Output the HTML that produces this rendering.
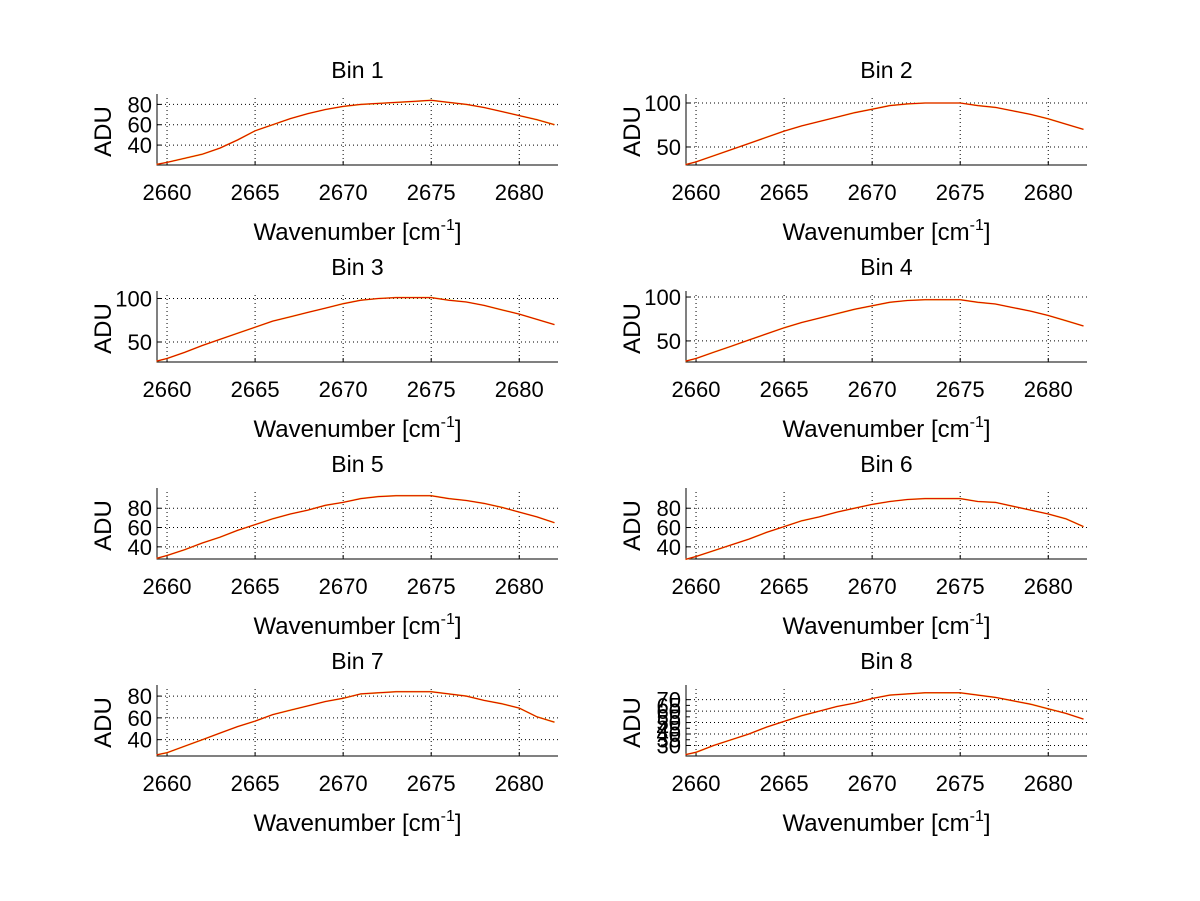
<!DOCTYPE html>
<html><head><meta charset="utf-8"><style>
body{margin:0;background:#fff}
svg{display:block;font-family:"Liberation Sans",Arial,sans-serif}
</style></head><body>
<svg id="fig" width="1200" height="901"></svg>
<script>
const xCats=[2659.4,2660,2661,2662,2663,2664,2665,2666,2667,2668,2669,2670,2671,2672,2673,2674,2675,2676,2677,2678,2679,2680,2681,2682];
const bin1=[21,23,27,31,37,45,54,60,66,71,75,78,80,81,82,83,84,82,80,77,73,69,65,60];
const bin2=[30,33,40,47,54,61,68,74,79,84,89,93,97,99,100,100,100,97,95,91,87,82,76,70];
const bin3=[28,31,38,46,53,60,67,74,79,84,89,94,98,100,101,101,101,98,96,92,87,82,76,70];
const bin4=[27,30,37,44,51,58,65,71,76,81,86,90,94,96,97,97,97,94,92,88,84,79,73,67];
const bin5=[28,31,37,44,50,57,63,69,74,78,83,86,90,92,93,93,93,90,88,85,81,76,71,65];
const bin6=[27,30,36,42,48,55,61,67,71,76,80,84,87,89,90,90,90,87,86,82,78,74,69,61];
const bin7=[26,28,34,40,46,52,57,63,67,71,75,78,82,83,84,84,84,82,80,76,73,69,61,56];
const bin8=[22,24,30,35,40,46,51,56,60,64,67,71,74,75,76,76,76,74,72,69,66,62,58,53];
const xTicks=[2660,2665,2670,2675,2680];
const yTicks1=[40,60,80], yTicks2=[50,100];
const yTicks8=[30,35,40,45,50,55,60,65,70];

const NS="http://www.w3.org/2000/svg";
const svg=document.getElementById('fig');
function mk(tag,attrs,parent,text){const e=document.createElementNS(NS,tag);for(const k in attrs)e.setAttribute(k,attrs[k]);if(text!==undefined)e.textContent=text;(parent||svg).appendChild(e);return e;}

const panels=[
 {t:'Bin 1',d:bin1,col:0,row:0,y:[20.4,86.3],yt:yTicks1},
 {t:'Bin 2',d:bin2,col:1,row:0,y:[29.5,105.7],yt:yTicks2},
 {t:'Bin 3',d:bin3,col:0,row:1,y:[27,104],yt:yTicks2},
 {t:'Bin 4',d:bin4,col:1,row:1,y:[26,102.3],yt:yTicks2},
 {t:'Bin 5',d:bin5,col:0,row:2,y:[27.4,96.8],yt:yTicks1},
 {t:'Bin 6',d:bin6,col:1,row:2,y:[27.4,96.8],yt:yTicks1},
 {t:'Bin 7',d:bin7,col:0,row:3,y:[25,86.5],yt:yTicks1},
 {t:'Bin 8',d:bin8,col:1,row:3,y:[20.8,79.3],yt:yTicks8}
];
const X0=[157,686],W=401,TOPS=[98,295,492,689],H=67,XMIN=2659.43,XMAX=2682.2;

panels.forEach((p,i)=>{
 const g=mk('g',{});
 
 
 const x0=X0[p.col],top=TOPS[p.row],bot=top+H;
 const sx=v=>x0+(v-XMIN)/(XMAX-XMIN)*W;
 const sy=v=>bot-(v-p.y[0])/(p.y[1]-p.y[0])*H;
 xTicks.forEach(t=>{const l=mk('line',{x1:sx(t),x2:sx(t),y1:top,y2:bot,stroke:'#000','stroke-width':1,'stroke-dasharray':'1,3'},g);
  mk('line',{x1:sx(t),x2:sx(t),y1:bot,y2:bot-4,stroke:'#000'},g);
  const tx=mk('text',{x:sx(t),y:bot+35,'text-anchor':'middle','font-size':22},g,t);});
 p.yt.forEach(t=>{
  if(i!==7||t%10===0){const l=mk('line',{x1:x0,x2:x0+W,y1:sy(t),y2:sy(t),stroke:'#000','stroke-width':1,'stroke-dasharray':'1,3'},g);}
  mk('line',{x1:x0,x2:x0+4,y1:sy(t),y2:sy(t),stroke:'#000'},g);
  const tx=mk('text',{x:x0-5,y:sy(t)+8,'text-anchor':'end','font-size':22},g,t);});
 const ax=mk('path',{d:`M${x0},${top-4}V${bot}H${x0+W}`,stroke:'#000',fill:'none','stroke-width':1},g);
 
 const pts=p.d.map((v,k)=>sx(xCats[k]).toFixed(1)+','+sy(v).toFixed(1)).join(' ');
 const ly=mk('polyline',{points:pts,fill:'none',stroke:'#e8c000','stroke-width':1.6},g);
 
 const lr=mk('polyline',{points:pts,fill:'none',stroke:'#e00000','stroke-width':1},g);
 
 const tt=mk('text',{x:x0+W/2,y:top-20,'text-anchor':'middle','font-size':23},g,p.t);
 
 const xl=mk('text',{x:x0+W/2,y:bot+75,'text-anchor':'middle','font-size':24},g);
 
 xl.innerHTML='Wavenumber [cm<tspan dy="-10" font-size="16">-1</tspan><tspan dy="10">]</tspan>';
 const yl=mk('text',{x:0,y:0,'text-anchor':'middle','font-size':24,transform:`translate(${x0-46},${top+H/2}) rotate(-90)`},g,'ADU');
 
});
</script>
</body></html>
